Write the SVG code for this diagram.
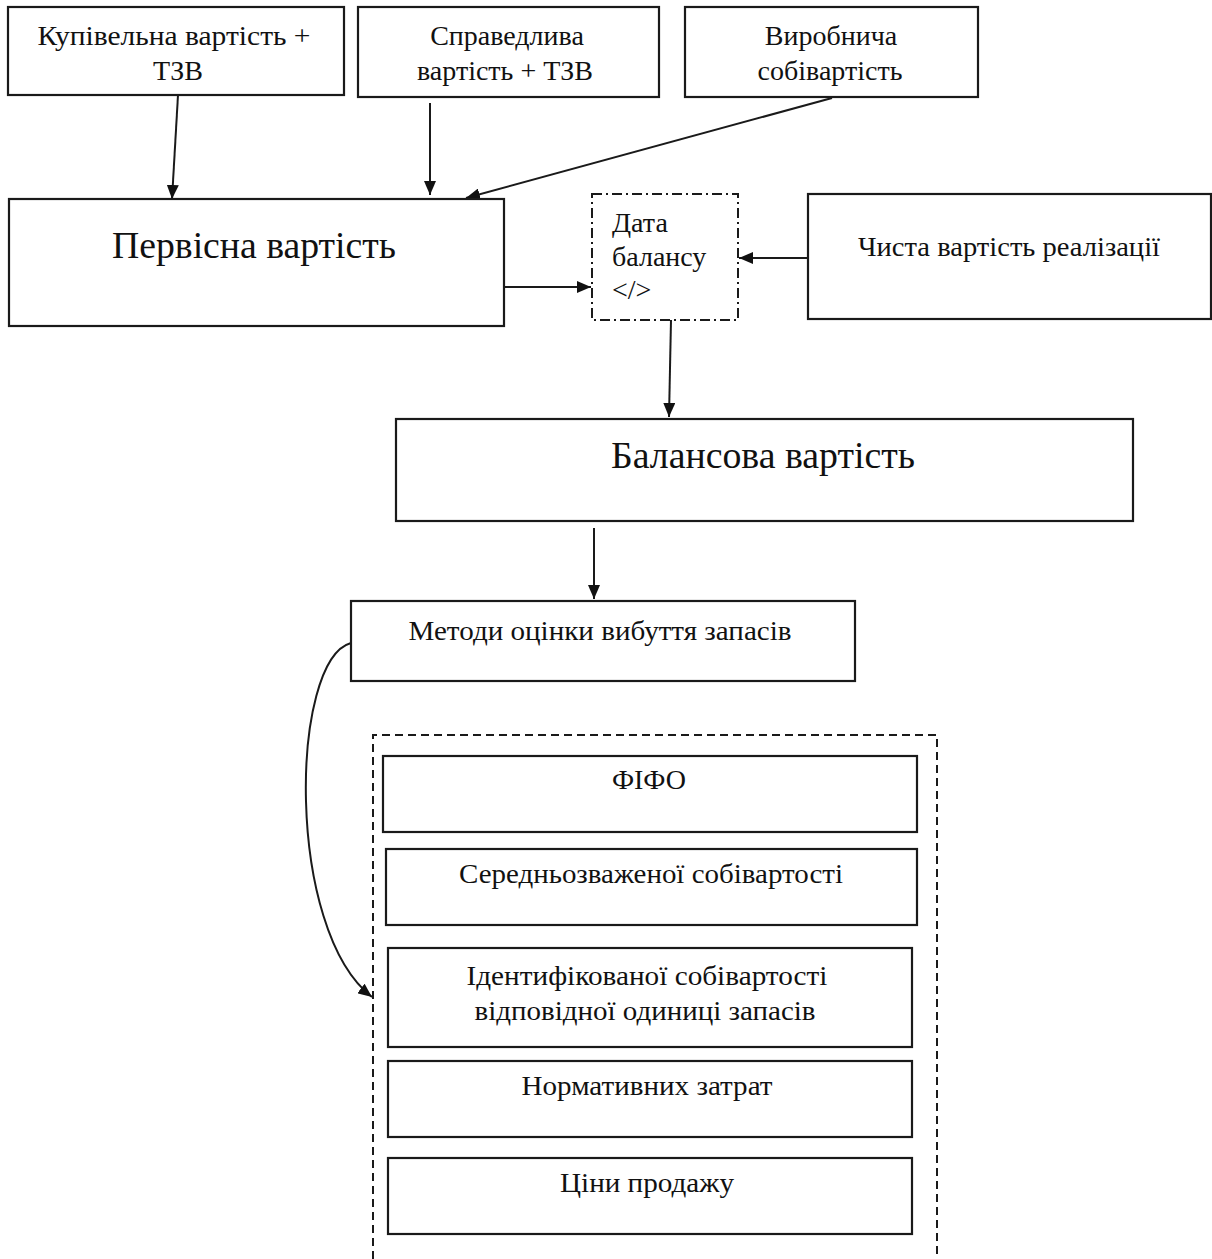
<svg xmlns="http://www.w3.org/2000/svg" width="1212" height="1259" viewBox="0 0 1212 1259">
<defs>
<style>
.box{fill:#fff;stroke:#1a1a1a;stroke-width:2.2}
.t{font-family:"Liberation Serif","Times New Roman",serif;fill:#111;text-anchor:middle}
.s{font-size:28px}
.l{font-size:37px}
.c{fill:none;stroke:#1a1a1a;stroke-width:2}
</style>
<marker id="ah" viewBox="0 0 14 12" refX="14" refY="6" markerWidth="14" markerHeight="12" markerUnits="userSpaceOnUse" orient="auto">
<path d="M0,0 L14,6 L0,12 z" fill="#111"/>
</marker>
</defs>
<rect width="1212" height="1259" fill="#fff"/>

<g id="connectors">
<line class="c" x1="178" y1="95" x2="172" y2="199" marker-end="url(#ah)"/>
<line class="c" x1="430" y1="103" x2="430" y2="195" marker-end="url(#ah)"/>
<line class="c" x1="832" y1="98" x2="466" y2="198" marker-end="url(#ah)"/>
<line class="c" x1="500" y1="287" x2="591" y2="287" marker-end="url(#ah)"/>
<line class="c" x1="808" y1="258" x2="739" y2="258" marker-end="url(#ah)"/>
<line class="c" x1="671" y1="320" x2="669" y2="417" marker-end="url(#ah)"/>
<line class="c" x1="594" y1="528" x2="594" y2="599" marker-end="url(#ah)"/>
<path class="c" d="M351,643 C290,660 285,930 372,997" marker-end="url(#ah)"/>
</g>

<g id="n1">
<rect class="box" x="8" y="7" width="336" height="88"/>
<text class="t s" x="174" y="45" textLength="273" lengthAdjust="spacingAndGlyphs">Купівельна вартість +</text>
<text class="t s" x="178" y="80">ТЗВ</text>
</g>
<g id="n2">
<rect class="box" x="358" y="7" width="301" height="90"/>
<text class="t s" x="507" y="45">Справедлива</text>
<text class="t s" x="505" y="80">вартість + ТЗВ</text>
</g>
<g id="n3">
<rect class="box" x="685" y="7" width="293" height="90"/>
<text class="t s" x="831" y="45">Виробнича</text>
<text class="t s" x="830" y="80">собівартість</text>
</g>
<g id="n4">
<rect class="box" x="9" y="199" width="495" height="127"/>
<text class="t l" x="254" y="258" textLength="284" lengthAdjust="spacingAndGlyphs">Первісна вартість</text>
</g>
<g id="n5">
<rect x="592" y="194" width="146" height="126" fill="#fff" stroke="#1a1a1a" stroke-width="2" stroke-dasharray="10,4,2,4"/>
<text class="t s" x="612" y="232" style="text-anchor:start">Дата</text>
<text class="t s" x="612" y="266" style="text-anchor:start">балансу</text>
<text class="t s" x="612" y="299" style="text-anchor:start">&lt;/&gt;</text>
</g>
<g id="n6">
<rect class="box" x="808" y="194" width="403" height="125"/>
<text class="t s" x="1009" y="256" textLength="302" lengthAdjust="spacingAndGlyphs">Чиста вартість реалізації</text>
</g>
<g id="n7">
<rect class="box" x="396" y="419" width="737" height="102"/>
<text class="t l" x="763" y="468" textLength="304" lengthAdjust="spacingAndGlyphs">Балансова вартість</text>
</g>
<g id="n8">
<rect class="box" x="351" y="601" width="504" height="80"/>
<text class="t s" x="600" y="640" textLength="383" lengthAdjust="spacingAndGlyphs">Методи оцінки вибуття запасів</text>
</g>
<g id="group">
<path d="M373,1259 V735 H937 V1259" fill="none" stroke="#1a1a1a" stroke-width="2" stroke-dasharray="8,5"/>
</g>
<g id="m1">
<rect class="box" x="383" y="756" width="534" height="76"/>
<text class="t s" x="649" y="789">ФІФО</text>
</g>
<g id="m2">
<rect class="box" x="386" y="849" width="531" height="76"/>
<text class="t s" x="651" y="883" textLength="384" lengthAdjust="spacingAndGlyphs">Середньозваженої собівартості</text>
</g>
<g id="m3">
<rect class="box" x="388" y="948" width="524" height="99"/>
<text class="t s" x="647" y="985" textLength="361" lengthAdjust="spacingAndGlyphs">Ідентифікованої собівартості</text>
<text class="t s" x="645" y="1020" textLength="341" lengthAdjust="spacingAndGlyphs">відповідної одиниці  запасів</text>
</g>
<g id="m4">
<rect class="box" x="388" y="1061" width="524" height="76"/>
<text class="t s" x="647" y="1095" textLength="251" lengthAdjust="spacingAndGlyphs">Нормативних затрат</text>
</g>
<g id="m5">
<rect class="box" x="388" y="1158" width="524" height="76"/>
<text class="t s" x="647" y="1192" textLength="174" lengthAdjust="spacingAndGlyphs">Ціни продажу</text>
</g>
</svg>
